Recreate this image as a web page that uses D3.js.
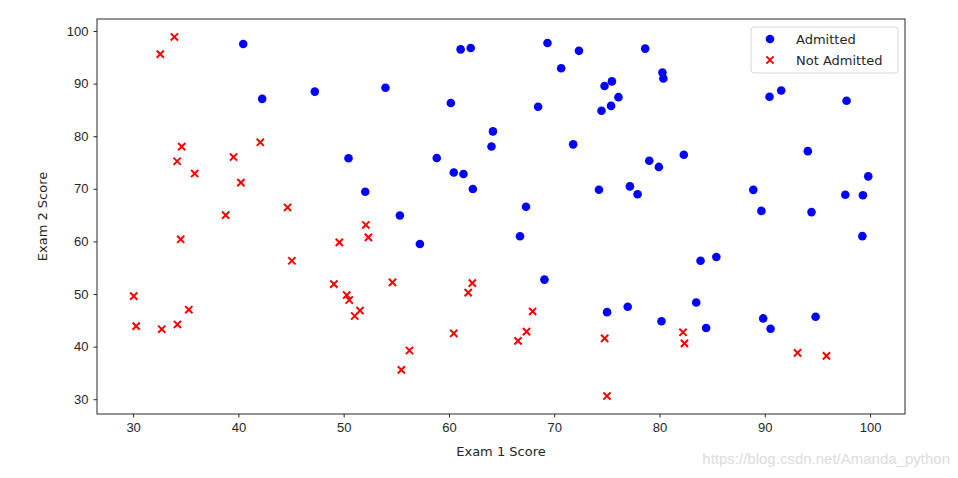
<!DOCTYPE html>
<html>
<head>
<meta charset="utf-8">
<script src="https://cdn.jsdelivr.net/npm/d3@7"></script>
<style>
  body { margin: 0; background: #fff; }
  svg { font-family: "DejaVu Sans", sans-serif; }
</style>
</head>
<body>
<svg id="chart" width="958" height="478"></svg>
<script>
// exam scores (ex2data1)
const exam1 = [34.62,30.29,35.85,60.18,79.03,45.08,61.11,75.02,76.10,84.43,95.86,75.01,82.31,69.36,39.54,53.97,69.07,67.95,70.66,76.98,67.37,89.68,50.53,34.21,77.92,62.27,80.19,93.11,61.83,38.79,61.38,85.40,52.11,52.05,40.24,54.64,33.92,64.18,74.79,34.18,83.90,51.55,94.44,82.37,51.05,62.22,77.19,97.77,62.07,91.56,79.94,99.27,90.55,34.52,50.29,49.59,97.65,32.58,74.25,71.80,75.40,35.29,56.25,30.06,44.67,66.56,40.46,49.07,80.28,66.75,32.72,64.04,72.35,60.46,58.84,99.83,47.26,50.46,60.46,82.23,88.91,94.83,67.32,57.24,80.37,68.47,42.08,75.48,78.64,52.35,94.09,90.45,55.48,74.49,89.85,83.49,42.26,99.32,55.34,74.78];
const exam2 = [78.02,43.89,72.90,86.31,75.34,56.32,96.51,46.55,87.42,43.53,38.23,30.60,76.48,97.72,76.04,89.21,52.74,46.68,92.93,47.58,42.84,65.80,48.86,44.21,68.97,69.95,44.82,38.80,50.26,65.00,72.81,57.05,63.13,69.43,71.17,52.21,98.87,80.91,41.57,75.24,56.31,46.86,65.57,40.62,45.82,52.06,70.46,86.73,96.77,88.70,74.16,61.00,43.39,60.40,49.80,59.81,68.86,95.60,69.82,78.45,85.76,47.02,39.26,49.59,66.45,41.09,97.54,51.88,92.12,60.99,43.31,78.03,96.23,73.09,75.86,72.37,88.48,75.81,42.51,42.72,69.80,45.69,66.59,59.51,90.96,85.59,78.84,90.42,96.65,60.77,77.16,87.51,35.57,84.85,45.36,48.38,87.10,68.78,64.93,89.53];
const admitted = [0,0,0,1,1,0,1,1,1,1,0,0,1,1,0,1,1,0,1,1,0,1,0,0,1,1,1,0,0,0,1,1,0,1,0,0,0,1,0,0,1,0,1,0,0,0,1,1,1,1,1,1,1,0,0,0,1,0,1,1,1,0,0,0,0,0,1,0,1,1,0,1,1,1,1,1,1,1,0,0,1,1,1,1,1,1,0,1,1,0,1,1,0,1,1,1,1,1,1,1];
const xTicks = [30,40,50,60,70,80,90,100];
const yTicks = [30,40,50,60,70,80,90,100];
const legendLabels = ["Admitted", "Not Admitted"];

const points = exam1.map((d, i) => ({ x: d, y: exam2[i], a: admitted[i] }));

const svg = d3.select("#chart");
const margin = { top: 19, right: 53, bottom: 64, left: 97 };
const width = 958, height = 478;

const x = d3.scaleLinear().domain([26.57, 103.32]).range([margin.left, width - margin.right]);
const y = d3.scaleLinear().domain([27.19, 102.28]).range([height - margin.bottom, margin.top]);

// axes
const xAxis = svg.append("g")
    .attr("transform", `translate(0,${height - margin.bottom})`)
    .call(d3.axisBottom(x).tickValues(xTicks).tickSize(3.5).tickPadding(5).tickSizeOuter(0));
const yAxis = svg.append("g")
    .attr("transform", `translate(${margin.left},0)`)
    .call(d3.axisLeft(y).tickValues(yTicks).tickSize(3.5).tickPadding(5).tickSizeOuter(0));
[xAxis, yAxis].forEach(g => {
    g.selectAll("text").style("font-size", "13px").attr("fill", "#262626");
    g.selectAll("line").attr("stroke", "#262626");
    g.select(".domain").remove();
});

// frame
svg.append("rect")
    .attr("x", margin.left).attr("y", margin.top)
    .attr("width", width - margin.left - margin.right)
    .attr("height", height - margin.top - margin.bottom)
    .attr("fill", "none").attr("stroke", "#262626").attr("stroke-width", 1);

// points
svg.append("g").selectAll("circle")
    .data(points.filter(d => d.a === 1))
    .enter().append("circle")
    .attr("cx", d => x(d.x)).attr("cy", d => y(d.y))
    .attr("r", 4.3).attr("fill", "blue");

const cross = 3.6;
svg.append("g").selectAll("path")
    .data(points.filter(d => d.a === 0))
    .enter().append("path")
    .attr("d", d => {
        const cx = x(d.x), cy = y(d.y);
        return `M${cx - cross},${cy - cross}L${cx + cross},${cy + cross}M${cx - cross},${cy + cross}L${cx + cross},${cy - cross}`;
    })
    .attr("stroke", "red").attr("stroke-width", 2);

// axis titles
svg.append("text")
    .attr("x", (margin.left + width - margin.right) / 2)
    .attr("y", 456)
    .attr("text-anchor", "middle")
    .style("font-size", "13px").attr("fill", "#262626")
    .text("Exam 1 Score");
svg.append("text")
    .attr("transform", `translate(47,${(margin.top + height - margin.bottom) / 2}) rotate(-90)`)
    .attr("text-anchor", "middle")
    .style("font-size", "13px").attr("fill", "#262626")
    .text("Exam 2 Score");

// legend
const lg = svg.append("g").attr("transform", "translate(751,27)");
lg.append("rect").attr("width", 147).attr("height", 46).attr("rx", 3)
    .attr("fill", "white").attr("stroke", "#d6d6d6");
lg.append("circle").attr("cx", 19).attr("cy", 12).attr("r", 4.3).attr("fill", "blue");
lg.append("path")
    .attr("d", `M${19 - cross},${33 - cross}L${19 + cross},${33 + cross}M${19 - cross},${33 + cross}L${19 + cross},${33 - cross}`)
    .attr("stroke", "red").attr("stroke-width", 2);
legendLabels.forEach((t, i) => {
    lg.append("text").attr("x", 45).attr("y", 16.5 + i * 21)
        .style("font-size", "13px").attr("fill", "#262626").text(t);
});

// watermark
svg.append("text")
    .attr("x", 950).attr("y", 464)
    .attr("text-anchor", "end")
    .style("font-family", "Arial, 'Liberation Sans', sans-serif")
    .style("font-size", "15px").attr("fill", "#dcdcdc")
    .text("https://blog.csdn.net/Amanda_python");
</script>
</body>
</html>
